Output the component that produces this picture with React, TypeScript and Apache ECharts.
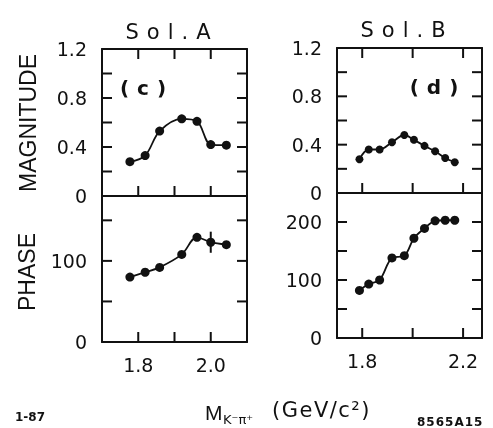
import React, { useEffect, useRef } from "react";
import * as echarts from "echarts";

// K-pi+ invariant mass bins (GeV/c^2) and fitted amplitudes for the two solutions
const solAMass = [1.777, 1.819, 1.859, 1.92, 1.962, 2.0, 2.043];
const solAMagnitude = [0.28, 0.33, 0.53, 0.63, 0.61, 0.42, 0.415];
const solAPhase = [80, 86, 92, 108, 129, 123, 120];

// error bar on Sol. A phase
const solAErrMass = [2.0];
const solAErrLow = [110];
const solAErrHigh = [136];

const solBMass = [1.789, 1.826, 1.869, 1.918, 1.967, 2.005, 2.047, 2.089, 2.129, 2.167];
const solBMagnitude = [0.28, 0.36, 0.36, 0.42, 0.48, 0.44, 0.39, 0.345, 0.29, 0.255];
const solBPhase = [82, 93, 100, 138, 142, 172, 189, 202, 203, 203];

// labelled values and tick positions on each axis
const magLabels = [0, 0.4, 0.8, 1.2];
const magTicks = [0.2, 0.4, 0.6, 0.8, 1.0];
const phaseALabels = [0, 100];
const phaseATicks = [50, 100, 150];
const phaseBLabels = [0, 100, 200];
const phaseBTicks = [50, 100, 150, 200];
const massALabels = [1.8, 2.0];
const massATicks = [1.8, 1.9, 2.0];
const massBLabels = [1.8, 2.2];
const massBTicks = [1.8, 2.0, 2.2];

const INK = "#111";
const NUM_FONT = "DejaVu Sans";
const WORD_FONT = "Liberation Sans";
const TICK_LEN = 10;

const spacedTexts: Record<string, number> = {
  "Sol.A": 8,
  "Sol.B": 8,
  "(c)": 8,
  "(d)": 8,
  "8565A15": 1,
  "(GeV/c²)": 1.5,
};

type Panel = {
  grid: { left: number; top: number; width: number; height: number };
  xMin: number;
  xMax: number;
  xTicks: number[];
  xLabels: number[] | null;
  topTicks: boolean;
  yMin: number;
  yMax: number;
  yInterval: number;
  yTicks: number[];
  yLabels: number[];
  yFormat: (v: number) => string;
};

const magFmt = (v: number) => (v === 0 ? "0" : v.toFixed(1));
const phaseFmt = (v: number) => String(Math.round(v));
const pick = (list: number[], fmt: (v: number) => string) => (v: number) =>
  list.some((t) => Math.abs(t - v) < 1e-6) ? fmt(v) : "";

const panels: Panel[] = [
  {
    grid: { left: 102, top: 49, width: 145, height: 147 },
    xMin: 1.7, xMax: 2.1, xTicks: massATicks, xLabels: null, topTicks: true,
    yMin: 0, yMax: 1.2, yInterval: 0.2, yTicks: magTicks, yLabels: magLabels, yFormat: magFmt,
  },
  {
    grid: { left: 102, top: 196, width: 145, height: 146 },
    xMin: 1.7, xMax: 2.1, xTicks: massATicks, xLabels: massALabels, topTicks: false,
    yMin: 0, yMax: 180, yInterval: 50, yTicks: phaseATicks, yLabels: phaseALabels, yFormat: phaseFmt,
  },
  {
    grid: { left: 337, top: 48, width: 145, height: 145 },
    xMin: 1.7, xMax: 2.275, xTicks: massBTicks, xLabels: null, topTicks: true,
    yMin: 0, yMax: 1.2, yInterval: 0.2, yTicks: magTicks, yLabels: magLabels, yFormat: magFmt,
  },
  {
    grid: { left: 337, top: 193, width: 145, height: 145 },
    xMin: 1.7, xMax: 2.275, xTicks: massBTicks, xLabels: massBLabels, topTicks: false,
    yMin: 0, yMax: 250, yInterval: 50, yTicks: phaseBTicks, yLabels: phaseBLabels, yFormat: phaseFmt,
  },
];

const axisLine = { show: true, onZero: false, lineStyle: { color: INK, width: 2 } };

function buildOption() {
  const grid = panels.map((p) => ({ ...p.grid, containLabel: false }));
  const xAxis: any[] = [];
  const yAxis: any[] = [];
  const series: any[] = [];

  panels.forEach((p, i) => {
    xAxis.push({
      type: "value", gridIndex: i, position: "bottom", min: p.xMin, max: p.xMax, interval: 0.1,
      axisLine, splitLine: { show: false }, axisTick: { show: false },
      axisLabel: {
        show: !!p.xLabels, margin: 13, color: INK, fontSize: 19, fontFamily: NUM_FONT,
        formatter: pick(p.xLabels || [], (v) => v.toFixed(1)),
      },
    });
    xAxis.push({
      type: "value", gridIndex: i, position: "top", min: p.xMin, max: p.xMax, interval: 0.1,
      axisLine, splitLine: { show: false }, axisTick: { show: false },
      axisLabel: { show: false },
    });
    yAxis.push({
      type: "value", gridIndex: i, position: "left", min: p.yMin, max: p.yMax, interval: p.yInterval,
      axisLine, splitLine: { show: false }, axisTick: { show: false },
      axisLabel: {
        show: true, margin: 15, color: INK, fontSize: 19, fontFamily: NUM_FONT,
        formatter: pick(p.yLabels, p.yFormat),
      },
    });
    yAxis.push({
      type: "value", gridIndex: i, position: "right", min: p.yMin, max: p.yMax, interval: p.yInterval,
      axisLine, splitLine: { show: false }, axisTick: { show: false },
      axisLabel: { show: false },
    });
  });

  const lineSeries = (xs: number[], ys: number[], idx: number, size: number) => ({
    type: "line",
    xAxisIndex: idx * 2,
    yAxisIndex: idx * 2,
    data: xs.map((x, k) => [x, ys[k]]),
    smooth: 0.35,
    symbol: "circle",
    symbolSize: size,
    itemStyle: { color: INK },
    lineStyle: { color: INK, width: 1.8 },
    z: 3,
  });

  series.push(
    lineSeries(solAMass, solAMagnitude, 0, 9),
    lineSeries(solAMass, solAPhase, 1, 9),
    lineSeries(solBMass, solBMagnitude, 2, 8),
    lineSeries(solBMass, solBPhase, 3, 9),
    {
      type: "custom",
      xAxisIndex: 2,
      yAxisIndex: 2,
      data: solAErrMass.map((x, k) => [x, solAErrLow[k], solAErrHigh[k]]),
      renderItem: (_params: any, api: any) => {
        const x = api.value(0);
        const a = api.coord([x, api.value(1)]);
        const b = api.coord([x, api.value(2)]);
        return {
          type: "line",
          shape: { x1: a[0], y1: a[1], x2: b[0], y2: b[1] },
          style: { stroke: INK, lineWidth: 2 },
        };
      },
      z: 2,
    }
  );

  return { animation: false, grid, xAxis, yAxis, series };
}

const txt = (text: string, x: number, y: number, font: number, extra: any = {}) => ({
  type: "text",
  x,
  y,
  style: {
    text,
    fill: INK,
    fontSize: font,
    fontFamily: extra.fontFamily || NUM_FONT,
    fontWeight: extra.fontWeight || "normal",
    textAlign: extra.align || "center",
    textVerticalAlign: "middle",
  },
  rotation: extra.rotation || 0,
});

// inward tick marks on every frame as thin filled bars, positioned through each grid's scales
function buildTicks(chart: echarts.ECharts) {
  const bars: any[] = [];
  panels.forEach((p, i) => {
    const finder = { xAxisIndex: i * 2, yAxisIndex: i * 2 } as any;
    const px = (x: number, y: number) => chart.convertToPixel(finder, [x, y]) as any;
    p.xTicks.forEach((v) => {
      const b = px(v, p.yMin);
      if (b) bars.push({ x: b[0] - 1, y: b[1] - TICK_LEN, width: 2, height: TICK_LEN });
      if (p.topTicks) {
        const t = px(v, p.yMax);
        if (t) bars.push({ x: t[0] - 1, y: t[1], width: 2, height: TICK_LEN });
      }
    });
    p.yTicks.forEach((v) => {
      const l = px(p.xMin, v);
      if (l) bars.push({ x: l[0], y: l[1] - 1, width: TICK_LEN, height: 2 });
      const r = px(p.xMax, v);
      if (r) bars.push({ x: r[0] - TICK_LEN, y: r[1] - 1, width: TICK_LEN, height: 2 });
    });
  });
  return bars.map((shape) => ({ type: "rect", z: 100, shape, style: { fill: INK } }));
}

function buildGraphic(chart: echarts.ECharts) {
  return [
    txt("Sol.A", 172, 32, 21),
    txt("Sol.B", 407, 30, 21),
    txt("(c)", 147, 88, 20, { fontWeight: "bold" }),
    txt("(d)", 438, 87, 20, { fontWeight: "bold" }),
    txt("MAGNITUDE", 28, 123, 23, { fontFamily: WORD_FONT, rotation: Math.PI / 2 }),
    txt("PHASE", 27, 272, 23, { fontFamily: WORD_FONT, rotation: Math.PI / 2 }),
    txt("M", 205, 412, 21, { align: "left", fontFamily: WORD_FONT }),
    txt("K⁻π⁺", 223, 419, 13, { align: "left" }),
    txt("(GeV/c²)", 272, 410, 21, { align: "left" }),
    txt("1-87", 15, 417, 12, { align: "left", fontWeight: "bold" }),
    txt("8565A15", 417, 422, 12, { align: "left", fontWeight: "bold" }),
    ...buildTicks(chart),
  ];
}

function applySpacing(root: HTMLElement | null) {
  if (!root) return;
  root.querySelectorAll("text").forEach((node) => {
    const t = node.textContent || "";
    if (spacedTexts[t] !== undefined) {
      node.setAttribute("letter-spacing", String(spacedTexts[t]));
    }
  });
}

export default function App() {
  const ref = useRef<HTMLDivElement>(null);
  useEffect(() => {
    document.body.style.margin = "0";
    if (!ref.current) return;
    const chart = echarts.init(ref.current, undefined, { renderer: "svg" });
    chart.setOption(buildOption() as any);
    chart.setOption({ graphic: buildGraphic(chart) } as any);
    const raf = requestAnimationFrame(() => applySpacing(ref.current));
    const timer = window.setTimeout(() => applySpacing(ref.current), 50);
    return () => {
      cancelAnimationFrame(raf);
      window.clearTimeout(timer);
      chart.dispose();
    };
  }, []);
  return <div ref={ref} style={{ position: "fixed", left: 0, top: 0, width: 493, height: 428 }} />;
}
